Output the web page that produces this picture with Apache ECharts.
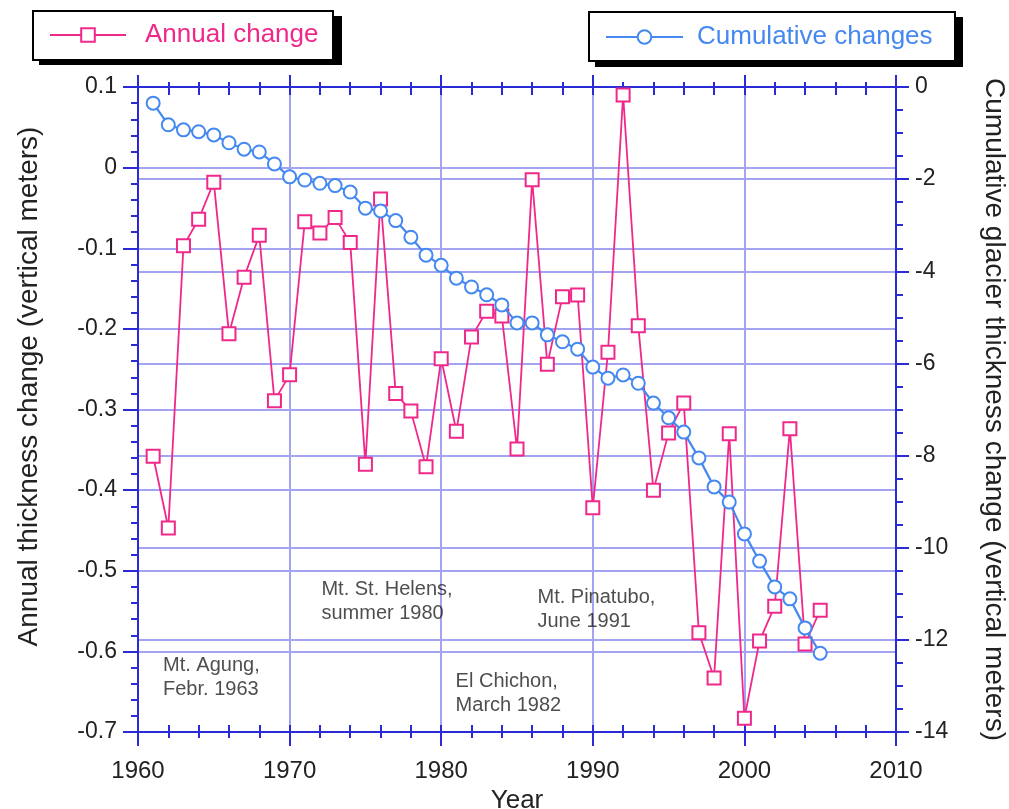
<!DOCTYPE html>
<html>
<head>
<meta charset="utf-8">
<script src="https://cdn.jsdelivr.net/npm/echarts@6/dist/echarts.min.js"></script>
<style>
html,body{margin:0;padding:0;background:#fff;}
#chart{width:1009px;height:809px;}
</style>
</head>
<body>
<div id="chart"></div>
<script>
const years = [1961,1962,1963,1964,1965,1966,1967,1968,1969,1970,
  1971,1972,1973,1974,1975,1976,1977,1978,1979,1980,
  1981,1982,1983,1984,1985,1986,1987,1988,1989,1990,
  1991,1992,1993,1994,1995,1996,1997,1998,1999,2000,
  2001,2002,2003,2004,2005];
const annualChange = [-0.358,-0.447,-0.097,-0.064,-0.018,-0.206,-0.136,-0.084,-0.289,-0.257,
  -0.067,-0.081,-0.062,-0.093,-0.368,-0.039,-0.280,-0.302,-0.371,-0.237,
  -0.327,-0.210,-0.178,-0.184,-0.349,-0.015,-0.244,-0.160,-0.158,-0.422,
  -0.229,0.090,-0.196,-0.400,-0.329,-0.292,-0.577,-0.633,-0.330,-0.683,
  -0.587,-0.544,-0.324,-0.591,-0.549];
const cumulativeChange = [-0.35,-0.82,-0.93,-0.97,-1.04,-1.21,-1.35,-1.41,-1.67,-1.95,
  -2.02,-2.09,-2.14,-2.28,-2.63,-2.69,-2.90,-3.26,-3.65,-3.87,
  -4.15,-4.34,-4.51,-4.73,-5.12,-5.12,-5.38,-5.53,-5.69,-6.08,
  -6.32,-6.25,-6.43,-6.86,-7.18,-7.49,-8.05,-8.68,-9.01,-9.70,
  -10.29,-10.85,-11.11,-11.74,-12.29];
const seriesNames = ['Annual change','Cumulative changes'];
const annotations = [
  {text:'Mt. Agung,\nFebr. 1963', year:1961.65, value:-0.603},
  {text:'Mt. St. Helens,\nsummer 1980', year:1972.1, value:-0.508},
  {text:'El Chichon,\nMarch 1982', year:1980.95, value:-0.622},
  {text:'Mt. Pinatubo,\nJune 1991', year:1986.35, value:-0.518}
];

const FONT = '"Liberation Sans", Arial, Helvetica, sans-serif';
const PINK = '#f0288a';
const BLUE = '#4589f0';
const AXIS = '#2a2ad6';
const GRID = '#a3a3f2';
const TXT = '#222';

function xAxisBase(extra){
  return Object.assign({
    type:'value', min:1960, max:2010, interval:10,
    axisLine:{show:true, onZero:false, lineStyle:{color:AXIS,width:2}},
    axisLabel:{show:false},
    splitLine:{show:false},
    minorSplitLine:{show:false}
  }, extra);
}

function legendBox(x1, y1, x2, y2, sx, sy){
  return [
    {type:'rect', z:0, shape:{x:x1+6, y:y1+5, width:x2-x1+sx-6, height:y2-y1+sy-5},
      style:{fill:'#000'}, silent:true},
    {type:'rect', z:1, shape:{x:x1, y:y1, width:x2-x1, height:y2-y1},
      style:{fill:'#fff', stroke:'#000', lineWidth:2}, silent:true}
  ];
}

const chart = echarts.init(document.getElementById('chart'), null, {renderer:'canvas'});
const option = {
  backgroundColor:'#fff',
  animation:false,
  textStyle:{fontFamily:FONT},
  grid:{left:138, top:87, right:113, bottom:77, containLabel:false, outerBoundsMode:'none'},
  graphic:{elements:[].concat(legendBox(33,11,333,60,9,5), legendBox(589,12,955,61,8,6))},
  legend:[
    {
      data:[seriesNames[0]], left:49, top:22, orient:'horizontal',
      padding:0, itemWidth:76, itemHeight:17, itemGap:0, z:10,
      selectedMode:false,
      textStyle:{color:PINK, fontSize:26, lineHeight:26, fontFamily:FONT, padding:[0,0,0,14]}
    },
    {
      data:[seriesNames[1]], left:605, top:24, orient:'horizontal',
      padding:0, itemWidth:77, itemHeight:17, itemGap:0, z:10,
      selectedMode:false,
      textStyle:{color:BLUE, fontSize:26, lineHeight:26, fontFamily:FONT, padding:[0,0,0,9]}
    }
  ],
  xAxis:[
    xAxisBase({
      position:'bottom',
      name:'Year', nameLocation:'middle', nameGap:53,
      nameTextStyle:{color:TXT, fontSize:26, fontFamily:FONT},
      axisTick:{show:true, inside:false, length:14, lineStyle:{color:AXIS,width:2}},
      minorTick:{show:true, splitNumber:5, length:6, lineStyle:{color:AXIS,width:2}},
      axisLabel:{show:true, color:TXT, fontSize:24, fontFamily:FONT, margin:27,
        formatter:(v)=>String(v)},
      splitLine:{show:true, lineStyle:{color:GRID,width:2}}
    }),
    xAxisBase({
      position:'bottom',
      axisTick:{show:true, inside:true, length:7, lineStyle:{color:AXIS,width:2}},
      minorTick:{show:true, splitNumber:5, length:7, lineStyle:{color:AXIS,width:2}}
    }),
    xAxisBase({
      position:'top',
      axisTick:{show:true, inside:true, length:8, lineStyle:{color:AXIS,width:2}},
      minorTick:{show:true, splitNumber:5, length:8, lineStyle:{color:AXIS,width:2}}
    }),
    xAxisBase({
      position:'top',
      axisTick:{show:true, inside:false, length:12, lineStyle:{color:AXIS,width:2}},
      minorTick:{show:true, splitNumber:5, length:5, lineStyle:{color:AXIS,width:2}}
    })
  ],
  yAxis:[
    {
      type:'value', position:'left', min:-0.7, max:0.1, interval:0.1,
      name:'Annual thickness change (vertical meters)', nameLocation:'middle', nameGap:95, nameRotate:90,
      nameTextStyle:{color:TXT, fontSize:28, fontFamily:FONT, padding:[0,0,0,46]},
      axisLine:{show:true, onZero:false, lineStyle:{color:AXIS,width:2}},
      axisTick:{show:true, inside:false, length:15, lineStyle:{color:AXIS,width:2}},
      minorTick:{show:true, splitNumber:5, length:7, lineStyle:{color:AXIS,width:2}},
      axisLabel:{color:TXT, fontSize:23, fontFamily:FONT, margin:21},
      splitLine:{show:true, lineStyle:{color:GRID,width:2}}
    },
    {
      type:'value', position:'right', min:-14, max:0, interval:2,
      name:'Cumulative glacier thickness change (vertical meters)', nameLocation:'middle', nameGap:84, nameRotate:-90,
      nameTextStyle:{color:TXT, fontSize:28, fontFamily:FONT},
      axisLine:{show:true, onZero:false, lineStyle:{color:AXIS,width:2}},
      axisTick:{show:true, inside:false, length:13, lineStyle:{color:AXIS,width:2}},
      minorTick:{show:true, splitNumber:4, length:7, lineStyle:{color:AXIS,width:2}},
      axisLabel:{color:TXT, fontSize:23, fontFamily:FONT, margin:19},
      splitLine:{show:true, lineStyle:{color:GRID,width:2}}
    }
  ],
  series:[
    {
      name:seriesNames[0], type:'line', xAxisIndex:0, yAxisIndex:0,
      data: years.map((y,i)=>[y, annualChange[i]]),
      symbol:'emptyRect', symbolSize:13,
      lineStyle:{color:PINK, width:1.8},
      itemStyle:{color:PINK, borderColor:PINK, borderWidth:1.8},
      z:3
    },
    {
      name:seriesNames[1], type:'line', xAxisIndex:0, yAxisIndex:1,
      data: years.map((y,i)=>[y, cumulativeChange[i]]),
      symbol:'emptyCircle', symbolSize:13,
      lineStyle:{color:BLUE, width:2.2},
      itemStyle:{color:BLUE, borderColor:BLUE, borderWidth:1.8},
      z:4
    },
    {
      name:'annotations', type:'scatter', xAxisIndex:0, yAxisIndex:0,
      data: annotations.map(a=>({value:[a.year, a.value], label:{formatter:a.text}})),
      symbolSize:0, silent:true,
      label:{show:true, position:'inside', align:'left', verticalAlign:'top',
        color:TXT, fontSize:20, lineHeight:24, fontFamily:FONT},
      z:5
    }
  ]
};
chart.setOption(option);
</script>
</body>
</html>
